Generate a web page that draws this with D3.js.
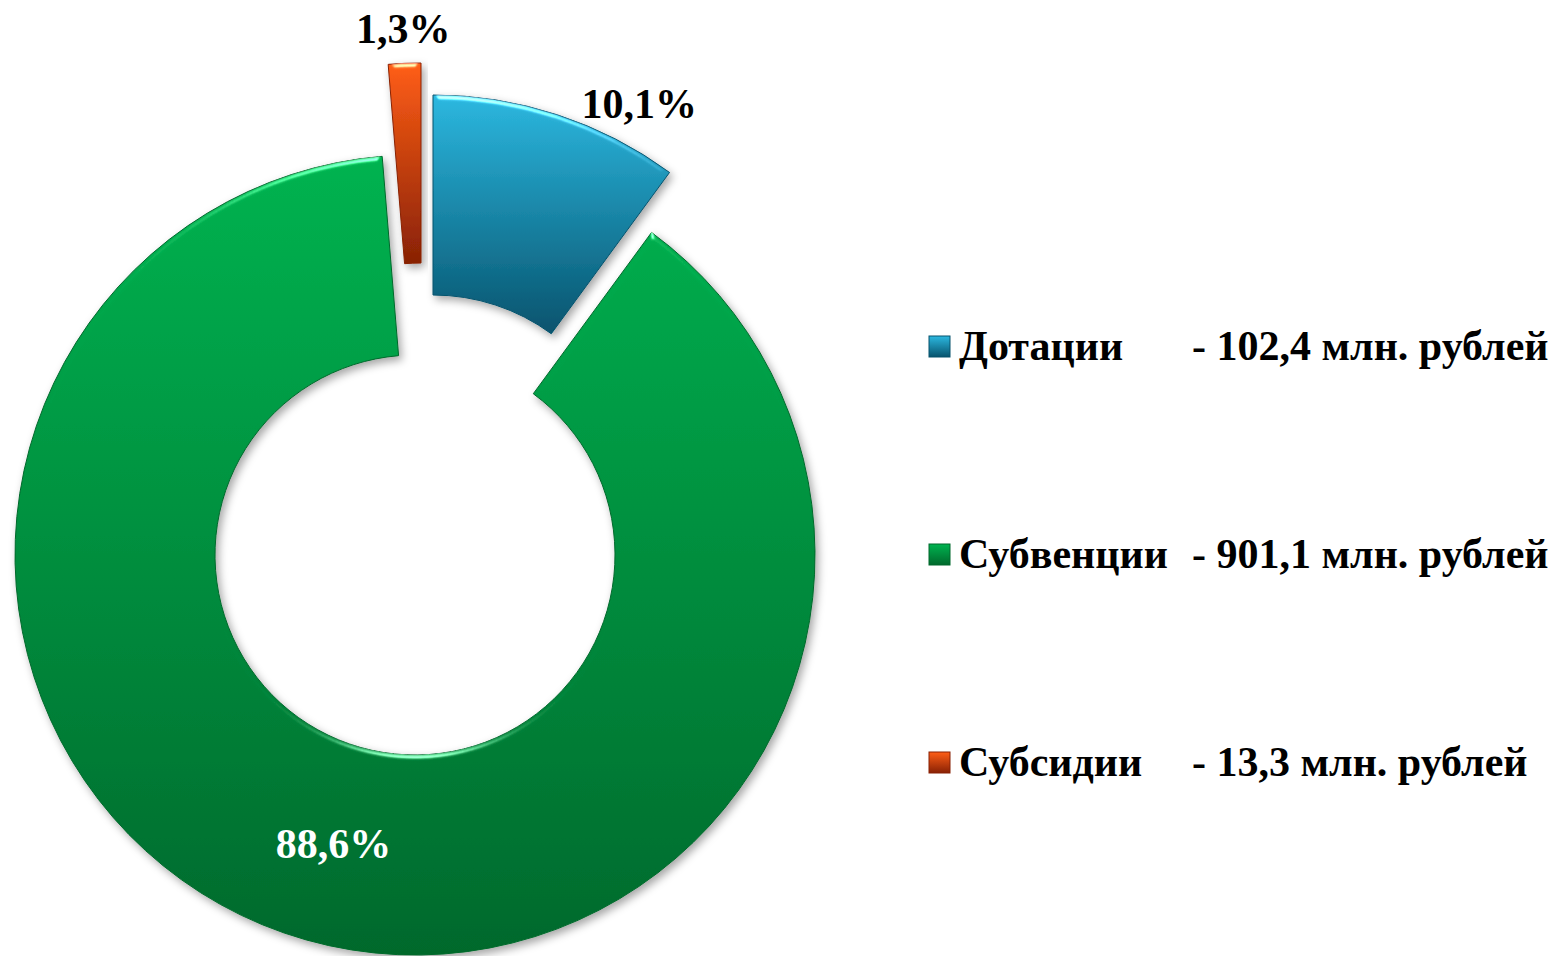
<!DOCTYPE html>
<html>
<head>
<meta charset="utf-8">
<script src="https://cdn.jsdelivr.net/npm/d3@7"></script>
<style>
  html, body { margin: 0; padding: 0; background: #fff; }
  svg { display: block; }
  text { font-family: "Liberation Serif", "Times New Roman", serif; font-weight: bold; }
</style>
</head>
<body>
<div id="chart"></div>
<script>
// data
var categories = ["Дотации", "Субвенции", "Субсидии"];
var amounts = [102.4, 901.1, 13.3];
var amountLabels = ["- 102,4 млн. рублей", "- 901,1 млн. рублей", "- 13,3 млн. рублей"];

var width = 1559, height = 956;
var cx = 415, cy = 555;
var outerR = 400, innerR = 200;

// slice colours: top / bottom of gradient
var colorTop = ["#2cb8e0", "#00b350", "#ff5e16"];
var colorBottom = ["#07536d", "#00692c", "#882105"];
// how far the exploded slices are pulled out
var explode = [[18, -60], [0, 0], [6, -92]];

var total = d3.sum(amounts);
var pctFmt = function (v) { return d3.format(".1f")(v / total * 100).replace(".", ",") + "%"; };

var svg = d3.select("#chart").append("svg")
    .attr("width", width)
    .attr("height", height);

var defs = svg.append("defs");

categories.forEach(function (c, i) {
  var g = defs.append("linearGradient")
      .attr("id", "grad" + i)
      .attr("x1", 0).attr("y1", 0).attr("x2", 0).attr("y2", 1);
  g.append("stop").attr("offset", "0%").attr("stop-color", colorTop[i]);
  g.append("stop").attr("offset", "100%").attr("stop-color", colorBottom[i]);
});

var shadow = defs.append("filter").attr("id", "shadow")
    .attr("x", "-20%").attr("y", "-20%").attr("width", "140%").attr("height", "140%");
shadow.append("feDropShadow")
    .attr("dx", 3).attr("dy", 4).attr("stdDeviation", 4)
    .attr("flood-color", "#000").attr("flood-opacity", 0.35);

// soft bevel, light from above
var bevel = defs.append("filter").attr("id", "bevel")
    .attr("color-interpolation-filters", "sRGB")
    .attr("x", "-5%").attr("y", "-5%").attr("width", "110%").attr("height", "110%");
bevel.append("feGaussianBlur").attr("in", "SourceAlpha").attr("stdDeviation", 3).attr("result", "blur");
bevel.append("feSpecularLighting")
    .attr("in", "blur").attr("surfaceScale", 3).attr("specularConstant", 0.9)
    .attr("specularExponent", 60).attr("lighting-color", "#ffffff").attr("result", "spec")
  .append("feDistantLight").attr("azimuth", 270).attr("elevation", 35);
bevel.append("feComposite").attr("in", "spec").attr("in2", "SourceAlpha")
    .attr("operator", "in").attr("result", "specOut");
bevel.append("feComposite").attr("in", "SourceGraphic").attr("in2", "specOut")
    .attr("operator", "arithmetic").attr("k1", 0).attr("k2", 1).attr("k3", 0.7).attr("k4", 0);

var pie = d3.pie().sort(null).value(function (d) { return d; });
var arcs = pie(amounts);

var arc = d3.arc().innerRadius(innerR).outerRadius(outerR);

var slices = svg.append("g").attr("transform", "translate(" + cx + "," + cy + ")");

var slice = slices.selectAll("g.slice")
    .data(arcs)
  .enter().append("g")
    .attr("class", "slice")
    .attr("transform", function (d, i) { return "translate(" + explode[i][0] + "," + explode[i][1] + ")"; });

slice.append("g")
    .attr("filter", "url(#shadow)")
  .append("path")
    .attr("d", arc)
    .attr("fill", function (d, i) { return "url(#grad" + i + ")"; })
    .attr("stroke", function (d, i) { return colorBottom[i]; })
    .attr("stroke-width", 1)
    .attr("filter", "url(#bevel)");

// percent labels: inside for the big slice, outside for the small ones
var outLabel = d3.arc().innerRadius(435).outerRadius(435);
var blueLabel = d3.arc().innerRadius(443).outerRadius(443);

slice.append("text")
    .attr("transform", function (d, i) {
      var p;
      if (i === 1) {
        p = arc.centroid(d);
      } else if (i === 0) {
        // blue label is shifted a little clockwise
        p = blueLabel.centroid({startAngle: d.startAngle + 0.168, endAngle: d.endAngle + 0.168});
      } else {
        p = outLabel.centroid(d);
      }
      return "translate(" + p[0] + "," + p[1] + ")";
    })
    .attr("text-anchor", "middle")
    .attr("dy", "0.35em")
    .attr("font-size", 42)
    .attr("fill", function (d, i) { return i === 1 ? "#fff" : "#000"; })
    .text(function (d) { return pctFmt(d.value); });

// legend
var legendY = d3.scalePoint().domain(categories).range([346, 762]);

var legend = svg.append("g").selectAll("g")
    .data(categories)
  .enter().append("g")
    .attr("transform", function (d) { return "translate(0," + legendY(d) + ")"; });

legend.append("rect")
    .attr("x", 929).attr("y", -10)
    .attr("width", 21).attr("height", 21)
    .attr("fill", function (d, i) { return "url(#grad" + i + ")"; })
    .attr("stroke", function (d, i) { return colorBottom[i]; })
    .attr("stroke-width", 1);

legend.append("text")
    .attr("x", 959).attr("y", 14)
    .attr("font-size", 42)
    .attr("fill", "#000")
    .text(function (d) { return d; });

legend.append("text")
    .attr("x", 1192).attr("y", 14)
    .attr("font-size", 42)
    .attr("fill", "#000")
    .text(function (d, i) { return amountLabels[i]; });
</script>
</body>
</html>
